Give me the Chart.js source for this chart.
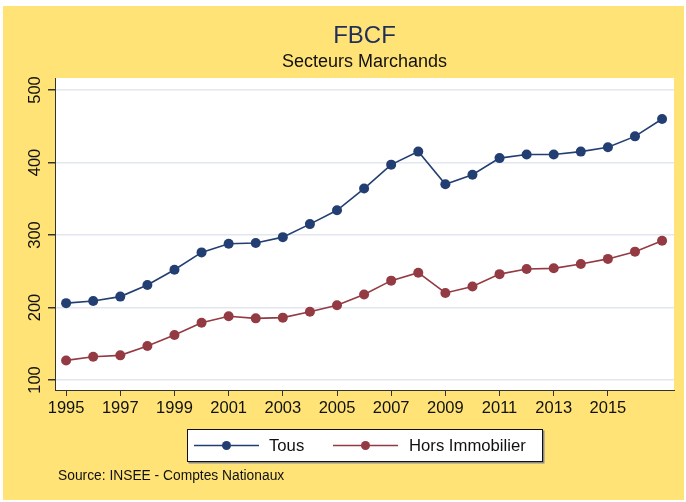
<!DOCTYPE html>
<html>
<head>
<meta charset="utf-8">
<script src="https://cdn.jsdelivr.net/npm/chart.js@4.4.1/dist/chart.umd.min.js"></script>
<style>
    html, body { margin: 0; padding: 0; background: #ffffff; }
    #wrap { width: 686px; height: 502px; }
</style>
</head>
<body>
<div id="wrap"><canvas id="fbcfChart" width="686" height="502"></canvas></div>
<script>
const years = [1995, 1996, 1997, 1998, 1999, 2000, 2001, 2002, 2003, 2004, 2005, 2006,
    2007, 2008, 2009, 2010, 2011, 2012, 2013, 2014, 2015, 2016, 2017];
const tousValues = [206, 209, 215, 231, 252, 276, 288, 289, 297, 315, 334, 364,
    397, 415, 370, 383, 406, 411, 411, 415, 421, 436, 460];
const horsImmoValues = [127, 132, 134, 147, 162, 179, 188, 185, 186, 194, 203, 218,
    237, 248, 220, 229, 246, 253, 254, 260, 267, 277, 292];
const xTickYears = [1995, 1997, 1999, 2001, 2003, 2005, 2007, 2009, 2011, 2013, 2015];
const yTickValues = [100, 200, 300, 400, 500];

const FONT = '"Liberation Sans", Arial, sans-serif';
const BLUE = '#233e72';
const RED = '#933a42';
const YELLOW = '#ffe377';

const toPoints = (values) => years.map((year, i) => ({ x: year, y: values[i] }));

// background, plot area, rotated y labels, legend box and source note
const decorPlugin = {
    id: 'decor',
    beforeDraw(chart) {
        const { ctx, chartArea } = chart;
        ctx.save();
        ctx.fillStyle = '#ffffff';
        ctx.fillRect(0, 0, chart.width, chart.height);
        ctx.fillStyle = YELLOW;
        ctx.fillRect(3, 6, 681, 494);
        ctx.fillStyle = '#ffffff';
        ctx.fillRect(chartArea.left, chartArea.top, chartArea.right - chartArea.left, chartArea.bottom - chartArea.top);
        ctx.restore();
    },
    afterDraw(chart) {
        const { ctx } = chart;
        const yScale = chart.scales.y;
        ctx.save();

        // y tick labels, rotated
        ctx.fillStyle = '#111111';
        ctx.font = `16.5px ${FONT}`;
        ctx.textAlign = 'center';
        ctx.textBaseline = 'middle';
        yTickValues.forEach((value) => {
            const py = yScale.getPixelForValue(value);
            ctx.save();
            ctx.translate(35, py);
            ctx.rotate(-Math.PI / 2);
            ctx.fillText(String(value), 0, 0);
            ctx.restore();
        });

        // legend
        const box = { x: 187.5, y: 429.5, w: 355, h: 32 };
        ctx.fillStyle = '#8a8a8a';
        ctx.fillRect(box.x + 1, box.y + 1, box.w + 1, box.h + 1);
        ctx.fillStyle = '#ffffff';
        ctx.fillRect(box.x, box.y, box.w, box.h);
        ctx.strokeStyle = '#111111';
        ctx.lineWidth = 1;
        ctx.strokeRect(box.x, box.y, box.w, box.h);

        const midY = box.y + box.h / 2;
        const items = [
            { color: BLUE, label: 'Tous', x0: 194, x1: 259, textX: 269 },
            { color: RED, label: 'Hors Immobilier', x0: 333, x1: 398, textX: 409 }
        ];
        items.forEach((item) => {
            ctx.strokeStyle = item.color;
            ctx.lineWidth = 1.5;
            ctx.beginPath();
            ctx.moveTo(item.x0, midY);
            ctx.lineTo(item.x1, midY);
            ctx.stroke();
            ctx.fillStyle = item.color;
            ctx.beginPath();
            ctx.arc((item.x0 + item.x1) / 2, midY, 4.5, 0, Math.PI * 2);
            ctx.fill();
            ctx.fillStyle = '#111111';
            ctx.font = `16.7px ${FONT}`;
            ctx.textAlign = 'left';
            ctx.textBaseline = 'middle';
            ctx.fillText(item.label, item.textX, midY + 1);
        });

        // source note
        ctx.fillStyle = '#111111';
        ctx.font = `13.8px ${FONT}`;
        ctx.textAlign = 'left';
        ctx.textBaseline = 'middle';
        ctx.fillText('Source: INSEE - Comptes Nationaux', 58, 476);

        ctx.restore();
    }
};

new Chart(document.getElementById('fbcfChart'), {
    type: 'line',
    data: {
        datasets: [{
            label: 'Tous',
            data: toPoints(tousValues),
            borderColor: BLUE,
            backgroundColor: BLUE,
            borderWidth: 1.6,
            pointRadius: 5,
            pointHoverRadius: 5,
            pointBorderWidth: 0,
            tension: 0
        }, {
            label: 'Hors Immobilier',
            data: toPoints(horsImmoValues),
            borderColor: RED,
            backgroundColor: RED,
            borderWidth: 1.6,
            pointRadius: 5,
            pointHoverRadius: 5,
            pointBorderWidth: 0,
            tension: 0
        }]
    },
    options: {
        responsive: false,
        animation: false,
        devicePixelRatio: 1,
        layout: {
            padding: { top: 6, left: 0, right: 12, bottom: 0 }
        },
        scales: {
            x: {
                type: 'linear',
                min: 1994.59,
                max: 2017.44,
                afterBuildTicks: (scale) => {
                    scale.ticks = xTickYears.map((value) => ({ value }));
                },
                afterFit: (scale) => {
                    scale.height = 112;
                },
                grid: {
                    drawOnChartArea: false,
                    drawTicks: true,
                    tickLength: 6,
                    tickColor: '#333333'
                },
                border: {
                    display: true,
                    color: '#333333',
                    width: 1
                },
                ticks: {
                    color: '#111111',
                    padding: 3,
                    maxRotation: 0,
                    autoSkip: false,
                    font: { family: FONT, size: 16.5 },
                    callback: (value) => String(value)
                }
            },
            y: {
                type: 'linear',
                min: 86.2,
                max: 516.5,
                afterBuildTicks: (scale) => {
                    scale.ticks = yTickValues.map((value) => ({ value }));
                },
                afterFit: (scale) => {
                    scale.width = 55;
                },
                grid: {
                    color: '#e1e6ef',
                    lineWidth: 1.5,
                    drawTicks: true,
                    tickLength: 7,
                    tickColor: '#333333'
                },
                border: {
                    display: true,
                    color: '#333333',
                    width: 1
                },
                ticks: {
                    display: false
                }
            }
        },
        plugins: {
            legend: { display: false },
            tooltip: { enabled: false },
            title: {
                display: true,
                fullSize: false,
                text: 'FBCF',
                color: '#1f2f58',
                font: { family: FONT, size: 24, weight: 'normal' },
                padding: { top: 15.6, bottom: 0.8 }
            },
            subtitle: {
                display: true,
                fullSize: false,
                text: 'Secteurs Marchands',
                color: '#111111',
                font: { family: FONT, size: 18, weight: 'normal' },
                padding: { top: 0, bottom: 5.2 }
            }
        }
    },
    plugins: [decorPlugin]
});
</script>
</body>
</html>
